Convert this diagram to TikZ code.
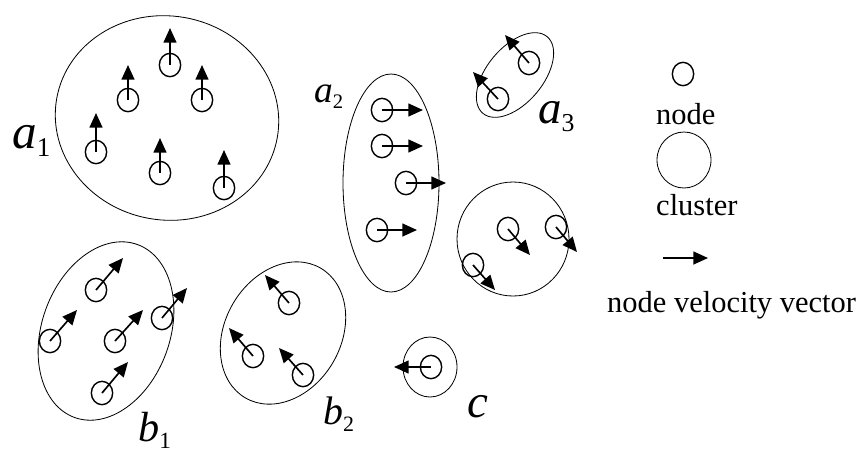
\documentclass[tikz,border=0pt]{standalone}
\usepackage{fontspec}
\setmainfont{Liberation Serif}
\usepackage{tikz}
\usetikzlibrary{arrows.meta,shapes.geometric}
\newcommand{\csub}[1]{\raisebox{-.18em}{\scalebox{.55}{#1}}}

\begin{document}
\begin{tikzpicture}[
  x=0.3mm, y=-0.3mm,
  pt/.style={ellipse, draw, line width=1.2pt, minimum width=6.4mm,
             minimum height=7mm, inner sep=0pt},
  clus/.style={ellipse, draw, line width=0.7pt, inner sep=0pt},
  vel/.style={-{Triangle[length=12.5pt,width=11pt]}, line width=1.4pt},
  lab/.style={anchor=base west, inner sep=0pt},
  leg/.style={anchor=base west, inner sep=0pt, font=\fontsize{26}{28}\selectfont},
]
  \useasboundingbox (0,0) rectangle (859,452);
  % clusters
  \node[clus, minimum width=67.2mm, minimum height=61.2mm, rotate=-10] (a1) at (167,118) {};
  \node[clus, minimum width=28.8mm, minimum height=65.4mm] (a2) at (391,183) {};
  \node[clus, minimum width=30mm, minimum height=16.8mm, rotate=50] (a3) at (515,75) {};
  \node[clus, minimum width=33.6mm, minimum height=34.2mm] (d) at (513,239) {};
  \node[clus, minimum width=55.2mm, minimum height=38.4mm, rotate=70] (b1) at (106,331) {};
  \node[clus, minimum width=45mm, minimum height=34.8mm, rotate=60] (b2) at (283,333) {};
  \node[clus, minimum width=16.2mm, minimum height=18mm] (c) at (430,367) {};
  % nodes with their velocity vectors
  \foreach \g/\pts in {a1/{170/65/0/-37, 128/100/0/-35, 202/100/0/-35, 96/152/0/-39, 160/173/0/-35, 224/188/0/-38},
                       a2/{382/110/41/0, 382/146/41/0, 406/183/40/0, 377/230/40/0},
                       a3/{529/63/-24/-28, 498/99/-25/-27},
                       d/{508/229/22/26, 556/227/21/25, 473/265/22/25},
                       b1/{96/290/27/-32, 50/341/27/-31, 115/341/28/-31, 162/318/25/-30, 102/393/26/-31},
                       b2/{289/303/-24/-28, 253/356/-24/-28, 303/375/-24/-27},
                       c/{431/367/-37/0}}
    \foreach \x/\y/\dx/\dy [count=\i] in \pts {
      \node[pt] (\g n\i) at (\x,\y) {};
      \path (\g n\i.center) ++(\dx,\dy) coordinate (\g v\i);
      \draw[vel] (\g n\i.center) -- (\g v\i);
    };
  % cluster names
  \node[lab, font=\fontsize{42}{44}\selectfont] (la1) at (12,148) {\textit{a}\csub{1}};
  \node[lab, font=\fontsize{32}{34}\selectfont] (la2) at (314,102) {\textit{a}\csub{2}};
  \node[lab, font=\fontsize{40}{42}\selectfont] (la3) at (538,123) {\textit{a}\csub{3}};
  \node[lab, font=\fontsize{36}{38}\selectfont] (lb1) at (138,441) {\textit{b}\csub{1}};
  \node[lab, font=\fontsize{34}{36}\selectfont] (lb2) at (323,424) {\textit{b}\csub{2}};
  \node[lab, font=\fontsize{40}{42}\selectfont] (lc) at (467,417) {\textit{c}};
  % legend
  \node[pt] (kn) at (683,74) {};
  \node[leg] (knt) at (656,124) {node};
  \node[clus, minimum width=16.2mm, minimum height=16.8mm] (kc) at (684,160) {};
  \node[leg] (kct) at (656,215) {cluster};
  \coordinate (kvs) at (663,258);
  \coordinate (kve) at (708,258);
  \draw[vel] (kvs) -- (kve);
  \node[leg] (kvt) at (607,312) {node velocity vector};
\end{tikzpicture}
\end{document}
